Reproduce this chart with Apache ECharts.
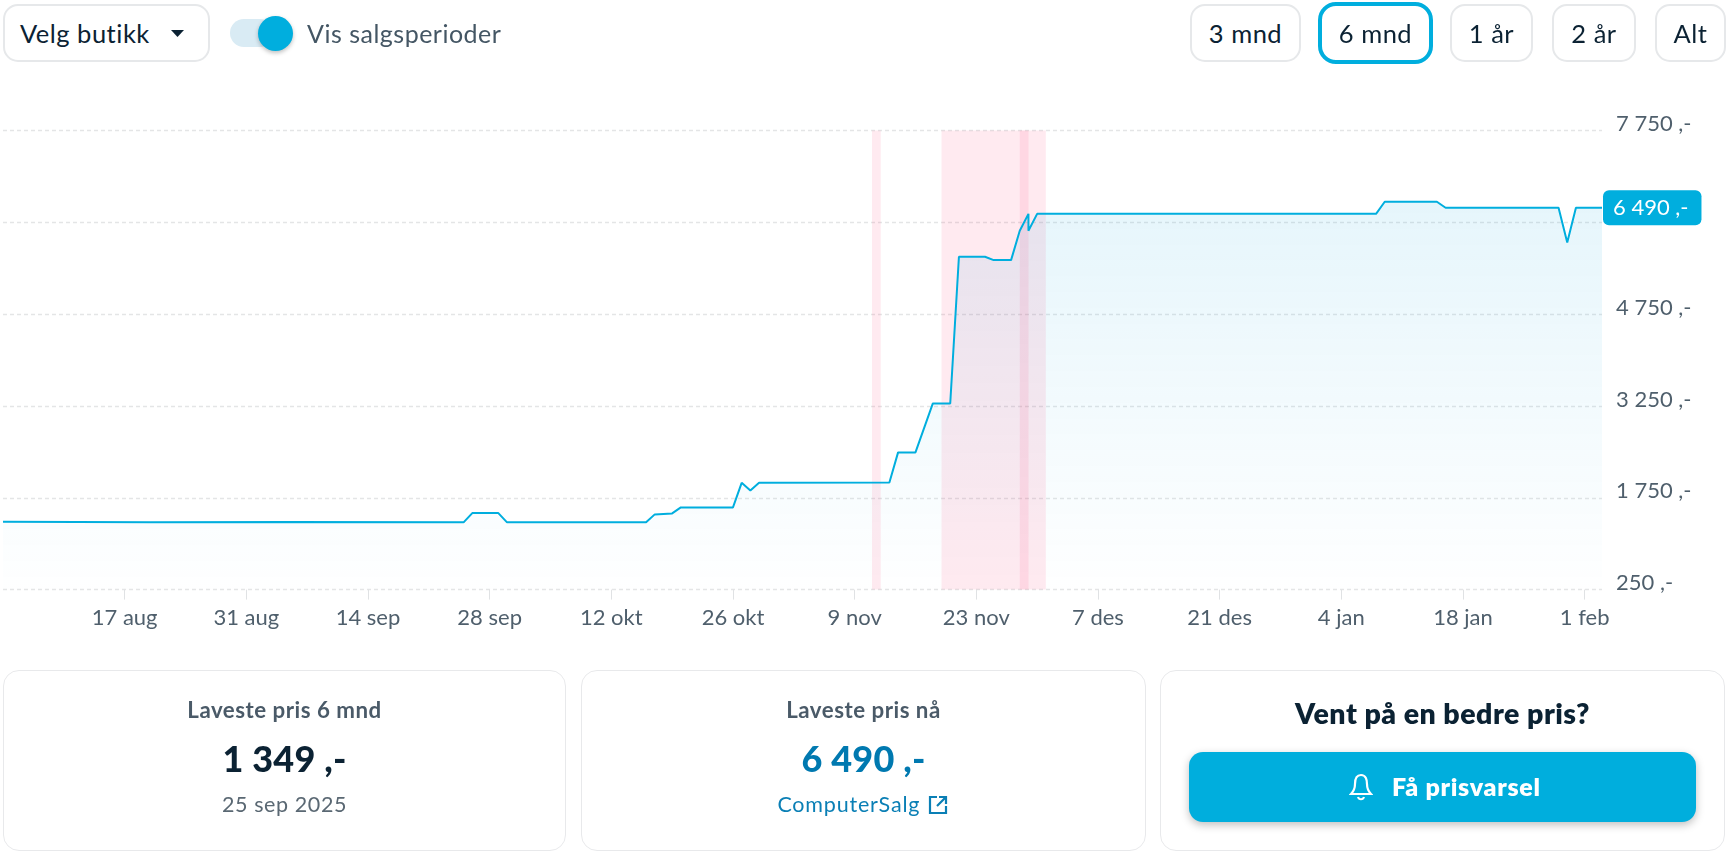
<!DOCTYPE html>
<html>
<head>
<meta charset="utf-8">
<title>Prishistorikk</title>
<script src="https://cdn.jsdelivr.net/npm/echarts@6/dist/echarts.min.js"></script>
<style>
html, body { margin: 0; padding: 0; background: #fff; }
body { width: 1728px; height: 855px; position: relative; overflow: hidden; font-family: Lato, sans-serif; color: #0b2233; }
#chart { position: absolute; left: 0; top: 0; width: 1728px; height: 855px; }
.box { position: absolute; box-sizing: border-box; background: #fff; border: 2px solid #e6e8ea; border-radius: 15px; display: flex; align-items: center; justify-content: center; font-size: 25.5px; letter-spacing: .5px; }
.active { border: 4px solid #00aede; border-radius: 18px; }
.card { position: absolute; box-sizing: border-box; top: 670px; height: 181px; border: 1.5px solid #e8e9eb; border-radius: 16px; background: #fff; }
.txt { position: absolute; left: 0; right: 0; text-align: center; transform: translateY(-50%); white-space: nowrap; }
.lab { font-size: 22.3px; font-weight: 700; color: #4a5a68; letter-spacing: .5px; top: 38px; }
.big { font-size: 36px; font-weight: 900; top: 87px; letter-spacing: .2px; }
.sub { font-size: 21.5px; color: #5a6873; top: 133px; letter-spacing: .6px; }
</style>
</head>
<body>
<div id="chart"></div>

<div class="box" style="left:3px;top:4px;width:207px;height:58px;justify-content:flex-start;padding-left:15px">Velg butikk</div>
<svg style="position:absolute;left:171px;top:30px" width="13" height="7"><path d="M0 0H13L6.5 7Z" fill="#0b2233"/></svg>
<div style="position:absolute;left:230px;top:19px;width:44px;height:28px;border-radius:14px;background:#d9ebf4"></div>
<div style="position:absolute;left:258px;top:16px;width:35px;height:35px;border-radius:50%;background:#00aede;box-shadow:0 2px 4px rgba(0,0,0,.25)"></div>
<div style="position:absolute;left:307px;top:33px;transform:translateY(-50%);font-size:25px;color:#445664;letter-spacing:.5px;white-space:nowrap">Vis salgsperioder</div>

<div class="box" style="left:1190px;top:4px;width:111px;height:58px">3 mnd</div>
<div class="box active" style="left:1318px;top:2px;width:115px;height:62px">6 mnd</div>
<div class="box" style="left:1450px;top:4px;width:83px;height:58px">1 år</div>
<div class="box" style="left:1552px;top:4px;width:84px;height:58px">2 år</div>
<div class="box" style="left:1655px;top:4px;width:71px;height:58px">Alt</div>

<div class="card" style="left:3px;width:563px">
  <div class="txt lab">Laveste pris 6 mnd</div>
  <div class="txt big">1 349 ,-</div>
  <div class="txt sub">25 sep 2025</div>
</div>
<div class="card" style="left:581px;width:565px">
  <div class="txt lab">Laveste pris nå</div>
  <div class="txt big" style="color:#0079b0">6 490 ,-</div>
  <div class="txt sub" style="color:#0a7fb5;letter-spacing:.8px">ComputerSalg
    <svg style="vertical-align:-3px;margin-left:1px" width="22" height="20" viewBox="0 0 22 20" fill="none" stroke="#0a7fb5" stroke-width="2.2"><path d="M9 2H2V18H18V11M11 2H18V9M18 2L9 11"/></svg>
  </div>
</div>
<div class="card" style="left:1160px;width:565px">
  <div class="txt" style="top:42px;font-size:28.5px;font-weight:800;letter-spacing:.5px">Vent på en bedre pris?</div>
  <div style="position:absolute;left:28px;top:81px;width:507px;height:70px;border-radius:14px;background:#00aedd;box-shadow:0 3px 8px rgba(0,0,0,.25)">
    <svg style="position:absolute;left:160px;top:21px" width="24" height="28" viewBox="0 0 24 28" fill="none" stroke="#fff" stroke-width="2.2"><path d="M12 2C7 2 6 7 6 11C6 16 4 19 2 21H22C20 19 18 16 18 11C18 7 17 2 12 2ZM9 24C10 27 14 27 15 24"/></svg>
    <div style="position:absolute;left:203px;top:34px;transform:translateY(-50%);color:#fff;font-size:25px;font-weight:800;letter-spacing:.7px;white-space:nowrap">Få prisvarsel</div>
  </div>
</div>

<script>
// DATA
const dates = ['2025-08-03', '2025-08-20', '2025-09-05', '2025-09-25', '2025-09-26', '2025-09-29', '2025-09-30', '2025-10-16', '2025-10-17', '2025-10-19', '2025-10-20', '2025-10-26', '2025-10-27', '2025-10-28', '2025-10-29', '2025-11-13', '2025-11-14', '2025-11-16', '2025-11-18', '2025-11-20', '2025-11-21', '2025-11-24', '2025-11-25', '2025-11-27', '2025-11-28', '2025-11-29', '2025-11-29', '2025-11-30', '2026-01-08', '2026-01-09', '2026-01-15', '2026-01-16', '2026-01-29', '2026-01-30', '2026-01-31', '2026-02-03']
const prices = [1359, 1349, 1355, 1349, 1500, 1500, 1349, 1349, 1479, 1495, 1593, 1593, 1995, 1871, 1995, 1999, 2492, 2492, 3292, 3292, 5688, 5688, 5634, 5634, 6113, 6390, 6113, 6390, 6390, 6587, 6587, 6490, 6490, 5923, 6490, 6490]

const tickDates = ['2025-08-17', '2025-08-31', '2025-09-14', '2025-09-28', '2025-10-12', '2025-10-26', '2025-11-09', '2025-11-23', '2025-12-07', '2025-12-21', '2026-01-04', '2026-01-18', '2026-02-01']
const tickLabels = ['17 aug', '31 aug', '14 sep', '28 sep', '12 okt', '26 okt', '9 nov', '23 nov', '7 des', '21 des', '4 jan', '18 jan', '1 feb']

const gridValues = [250, 1750, 3250, 4750, 6250, 7750]
const labelValues = [250, 1750, 3250, 4750, 7750]

const bandStarts = ['2025-11-11', '2025-11-19', '2025-11-28']
const bandEnds = ['2025-11-12', '2025-12-01', '2025-11-29']

// UTILS
const toTime = date => +echarts.time.parse(date)

const formatPrice = value => `${String(value).replace(/\B(?=(\d{3})+$)/g, ' ')} ,-`

const tickTimes = tickDates.map(toTime)
const tickText = value => tickLabels[tickTimes.indexOf(value)] || ''

// CHART
const chart = echarts.init(document.getElementById('chart'))
const font = 'Lato'

chart.setOption({
  animation: false,
  grid: { left: 3, right: 126, top: 130.6, height: 459 },
  xAxis: {
    type: 'value',
    min: toTime('2025-08-03'),
    max: toTime('2026-02-03'),
    axisLine: { show: false },
    splitLine: { show: false },
    axisTick: { length: 10, customValues: tickTimes, lineStyle: { color: '#e0e2e4', width: 1 } },
    axisLabel: { customValues: tickTimes, formatter: tickText, color: '#4f5f6c', fontFamily: font, fontSize: 22, margin: 17, hideOverlap: false }
  },
  yAxis: {
    type: 'value',
    position: 'right',
    min: 250,
    max: 7750,
    axisLine: { show: false },
    // split lines follow the tick values, even with the ticks hidden
    axisTick: { show: false, customValues: gridValues },
    splitLine: { show: true, lineStyle: { color: '#e4e5e6', type: [4, 3], width: 1.3 } },
    axisLabel: {
      customValues: labelValues,
      formatter: value => `{up|${formatPrice(value)}}`,
      margin: 14,
      rich: { up: { color: '#4f5f6c', fontFamily: font, fontSize: 22, padding: [0, 0, 13, 0] } }
    }
  },
  series: [{
    type: 'line',
    data: dates.map((d, i) => [toTime(d), prices[i]]),
    symbol: 'none',
    lineStyle: { color: '#00aede', width: 2 },
    areaStyle: {
      color: new echarts.graphic.LinearGradient(0, 0, 0, 1, [
        { offset: 0, color: 'rgba(0,160,220,0.14)' },
        { offset: 1, color: 'rgba(0,160,220,0.005)' }
      ])
    },
    endLabel: {
      show: true,
      formatter: p => formatPrice(p.value[1]),
      distance: 1,
      color: '#fff',
      fontFamily: font,
      fontSize: 22,
      backgroundColor: '#00aede',
      borderRadius: 6,
      padding: [7, 13, 6, 10]
    },
    markArea: {
      silent: true,
      itemStyle: { color: 'rgba(255,25,85,0.09)' },
      data: bandStarts.map((d, i) => [{ xAxis: toTime(d) }, { xAxis: toTime(bandEnds[i]) }])
    }
  }]
})
</script>
</body>
</html>
